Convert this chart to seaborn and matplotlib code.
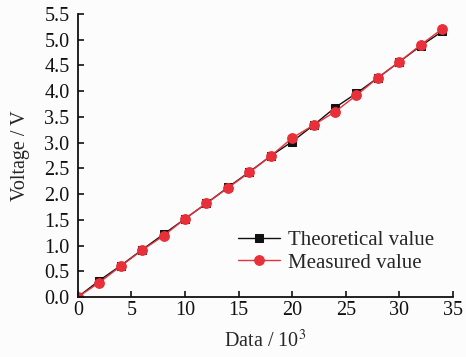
import matplotlib
matplotlib.use("Agg")
import matplotlib.pyplot as plt
import seaborn as sns
import pandas as pd

data_x = [0, 2, 4, 6, 8, 10, 12, 14, 16, 18, 20, 22, 24, 26, 28, 30, 32, 34]
theoretical = [0.00, 0.32, 0.61, 0.92, 1.22, 1.52, 1.82, 2.13, 2.43, 2.74,
               3.02, 3.34, 3.68, 3.96, 4.26, 4.57, 4.88, 5.16]
measured = [0.00, 0.28, 0.60, 0.91, 1.19, 1.52, 1.82, 2.12, 2.42, 2.74,
            3.09, 3.34, 3.60, 3.92, 4.26, 4.57, 4.90, 5.21]
x_ticks = [0, 5, 10, 15, 20, 25, 30, 35]
y_ticks = [0.0, 0.5, 1.0, 1.5, 2.0, 2.5, 3.0, 3.5, 4.0, 4.5, 5.0, 5.5]

sns.set_style("ticks")
plt.rcParams['font.family'] = ['Liberation Serif', 'DejaVu Serif']
plt.rcParams['mathtext.fontset'] = 'stix'

fig = plt.figure(figsize=(4.66, 3.57), dpi=100)
fig.patch.set_facecolor('#fcfcfc')
ax = fig.add_axes([0.167, 0.168, 0.805, 0.793])
ax.set_facecolor('#fcfcfc')

df_t = pd.DataFrame({'x': data_x, 'y': theoretical})
df_m = pd.DataFrame({'x': data_x, 'y': measured})

sns.lineplot(data=df_t, x='x', y='y', ax=ax, color='#111111', lw=1.0,
             marker='s', markersize=5.5, markeredgecolor='#111111',
             label='Theoretical value')
sns.lineplot(data=df_m, x='x', y='y', ax=ax, color='#e8303a', lw=1.0,
             marker='o', markersize=7, markeredgecolor='#e8303a',
             label='Measured value')

ax.set_xlim(0, 35)
ax.set_ylim(0, 5.5)
ax.set_xticks(x_ticks)
ax.set_yticks(y_ticks)
ax.set_yticklabels([f"{v:.1f}" for v in y_ticks])
ax.tick_params(direction='in', length=4, width=1.2, labelsize=14.5, colors='#111111')
ax.tick_params(axis='x', pad=3)
ax.tick_params(axis='y', pad=6)
for s in ['top', 'right']:
    ax.spines[s].set_visible(False)
for s in ['left', 'bottom']:
    ax.spines[s].set_linewidth(1.3)
    ax.spines[s].set_color('#111111')
for lbl in ax.get_xticklabels() + ax.get_yticklabels():
    lbl.set_clip_on(False)

ax.set_xlabel('Data / 10$^3$', fontsize=14.5, labelpad=7)
ax.set_ylabel('Voltage / V', fontsize=14.5, labelpad=10)

ax.legend(loc='lower right', bbox_to_anchor=(1.0, 0.02), frameon=False,
          fontsize=15, handlelength=2.0, handletextpad=0.4, labelspacing=0.15)

fig.savefig('out.png', dpi=100, facecolor=fig.get_facecolor())
